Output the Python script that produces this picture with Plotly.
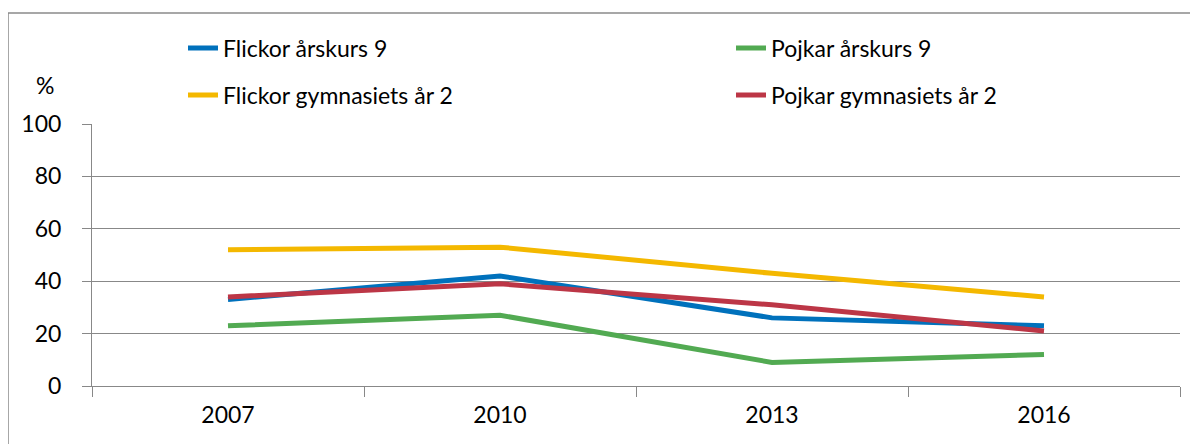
import plotly.graph_objects as go

years = ["2007", "2010", "2013", "2016"]
flickor_ak9 = [33, 42, 26, 23]
pojkar_ak9 = [23, 27, 9, 12]
flickor_gy2 = [52, 53, 43, 34]
pojkar_gy2 = [34, 39, 31, 21]

names = ["Flickor årskurs 9", "Pojkar årskurs 9", "Flickor gymnasiets år 2", "Pojkar gymnasiets år 2"]
series = [flickor_ak9, pojkar_ak9, flickor_gy2, pojkar_gy2]
colors = ["#0071BC", "#52AA52", "#F4B800", "#BC3646"]
legend_ids = ["legend", "legend2", "legend3", "legend4"]
# legend text anchor positions (screen px): (text-left x, row centre y)
legend_pos = [(222, 48), (770, 48), (222, 95), (770, 95)]

OFF = 8  # page body margin
W, H = 1198, 444
# plot area in screen px: x 92..1180, y 124..386
L = 92 - OFF
T = 124 - OFF
R = W - (1180 - OFF)
B = H - (386 - OFF)
pw, ph = W - L - R, H - T - B

def px_x(p):
    return (p - OFF - L) / pw

def px_y(p):
    return (H - B - (p - OFF)) / ph

FONT = "Lato, Carlito, 'Liberation Sans', sans-serif"
FS = 23

fig = go.Figure()
for n, s, c, lg in zip(names, series, colors, legend_ids):
    fig.add_trace(go.Scatter(x=years, y=s, name=n, mode="lines",
                             line=dict(color=c, width=5), legend=lg))

legend_layout = {}
for lg, (tx, ty) in zip(legend_ids, legend_pos):
    legend_layout[lg] = dict(
        x=px_x(tx - 39), y=px_y(ty), xanchor="left", yanchor="middle",
        orientation="h", font=dict(family=FONT, size=FS, color="#000"),
        bgcolor="rgba(0,0,0,0)", itemwidth=30)

fig.update_layout(
    width=W, height=H,
    margin=dict(l=L, r=R, t=T, b=B, autoexpand=False),
    paper_bgcolor="white", plot_bgcolor="white",
    font=dict(family=FONT, size=FS, color="#000"),
    showlegend=True,
    **legend_layout,
    xaxis=dict(type="category", range=[-0.5, 3.5], tickson="boundaries",
               ticks="outside", ticklen=10, tickcolor="#888", tickwidth=1,
               showline=True, linecolor="#888", linewidth=1, showgrid=False,
               ticklabelstandoff=8,
               tickfont=dict(family=FONT, size=FS, color="#000"), fixedrange=True),
    yaxis=dict(range=[0, 100], dtick=20, tick0=0, ticks="outside", ticklen=9,
               tickcolor="#888", tickwidth=1, showline=True, linecolor="#888", linewidth=1,
               showgrid=True, gridcolor="#888888", gridwidth=1, zeroline=False,
               ticklabelstandoff=16,
               tickfont=dict(family=FONT, size=FS, color="#000"), fixedrange=True),
    shapes=[dict(type="rect", xref="paper", yref="paper",
                 x0=px_x(8), x1=px_x(1215), y0=px_y(13), y1=px_y(470),
                 line=dict(color="#8a8a8a", width=1.5), fillcolor="rgba(0,0,0,0)", layer="below")],
    annotations=[dict(text="%", xref="paper", yref="paper", x=px_x(45), y=px_y(85),
                      showarrow=False, xanchor="center", yanchor="middle",
                      font=dict(family=FONT, size=FS, color="#000"))],
)

fig.write_html("out.html")
